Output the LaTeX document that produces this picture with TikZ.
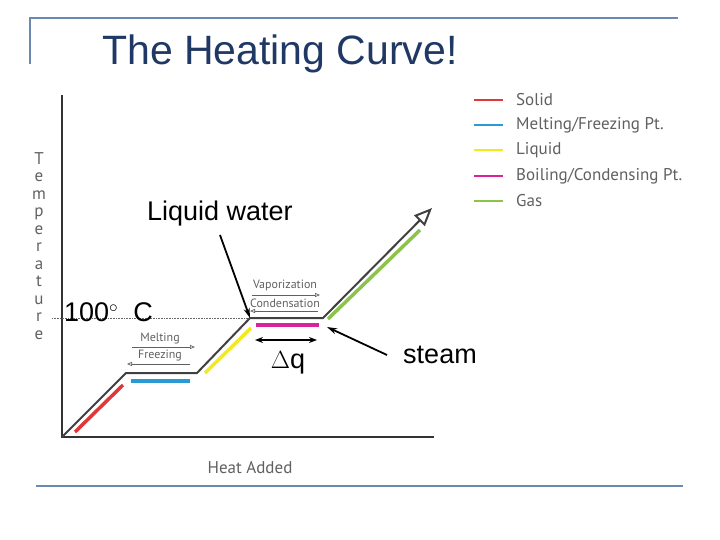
\documentclass[tikz,border=0pt]{standalone}
\usepackage{fontspec}
\setmainfont{Liberation Sans}
\newfontfamily\smallfont{PT Sans}
\usetikzlibrary{arrows.meta}
\definecolor{frame}{HTML}{6A8AB0}
\definecolor{cred}{HTML}{E0383A}
\definecolor{cblue}{HTML}{2A9AD2}
\definecolor{cyel}{HTML}{F2EA1E}
\definecolor{cmag}{HTML}{D8239A}
\definecolor{cgreen}{HTML}{8CC34A}
\definecolor{gtext}{HTML}{606060}
\definecolor{titlec}{HTML}{1F3864}
\tikzset{
 seg/.style={line width=3.5pt},
 curve/.style={line width=2pt, black!75},
 axis/.style={line width=2.5pt, black!80},
 small/.style={font=\smallfont\fontsize{12}{13}\selectfont, text=gtext, inner sep=0pt},
 leg/.style={font=\smallfont\fontsize{17}{19}\selectfont, text=gtext, anchor=west, inner sep=0pt},
 big/.style={font=\fontsize{27}{30}\selectfont, inner sep=0pt},
 thinarr/.style={gtext, line width=0.7pt, -{Triangle[open,length=5pt,width=4pt]}},
 callout/.style={line width=1.8pt, -{Stealth[length=10pt,width=6pt]}}
}
\begin{document}
\begin{tikzpicture}[x=1pt,y=-1pt]
\useasboundingbox (0,0) rectangle (720,540);
% frame
\draw[frame, line width=2pt] (30,64) -- (30,18) -- (678,18);
\draw[frame, line width=2pt] (36,486) -- (683,486);
\node[anchor=west, font=\fontsize{41}{44}\selectfont, text=titlec, inner sep=0pt] (title) at (102,54) {The Heating Curve!};
% axes
\coordinate (o) at (62,437);
\draw[axis] (62,95) -- (o) -- (434,437);
\node[font=\smallfont\fontsize{17}{19}\selectfont, text=gtext] (xl) at (250,468) {Heat Added};
\node[font=\smallfont\fontsize{17}{17.5}\selectfont, text=gtext, align=center, inner sep=0pt] (yl) at (39,246) {T\\e\\m\\p\\e\\r\\a\\t\\u\\r\\e};
% dotted
\draw[densely dotted, black!60, line width=0.6pt] (52,318) -- (250,318);
% curve
\coordinate (p1) at (126,373); \coordinate (p2) at (197,373);
\coordinate (p3) at (250,318); \coordinate (p4) at (323,318);
\coordinate (tip) at (432,208);
\draw[curve, -{Triangle[open,length=18pt,width=15pt]}] (o) -- (p1) -- (p2) -- (p3) -- (p4) -- (tip);
% colored segments
\draw[seg, cred] (75,432) -- (123,385);
\draw[seg, cblue] (131,381) -- (190,381);
\draw[seg, cyel] (205,373) -- (251,328);
\draw[seg, cmag] (256,325) -- (319,325);
\draw[seg, cgreen] (328,319) -- (420,230);
% phase labels
\node[small] (melt) at (160,339) {Melting};
\node[small] (freeze) at (160,356) {Freezing};
\draw[thinarr] (132,347) -- (195,347);
\draw[thinarr] (190,364) -- (127,364);
\node[small] (vap) at (285,285) {Vaporization};
\node[small] (cond) at (285,303) {Condensation};
\draw[thinarr] (252,295) -- (320,295);
\draw[thinarr] (318,311) -- (250,311);
% callouts
\node[big] (lw) at (220,214) {Liquid water};
\draw[callout] (220,235) -- (p3);
\node[big, anchor=west] (t100) at (64,312) {100$^{\circ}$\ \ C};
\node[big] (steam) at (440,355) {steam};
\draw[callout] (387,355) -- (327,327);
\coordinate (da) at (255,340); \coordinate (db) at (317,340);
\draw[line width=2.5pt, {Stealth[length=8pt]}-{Stealth[length=8pt]}] (da) -- (db);
\node[big] (dq) at (288,363) {$\Delta$q};
% legend
\foreach \c/\y/\t in {cred/100/{Solid}, cblue/125/{Melting{/}Freezing Pt.}, cyel/150/{Liquid}, cmag/176/{Boiling{/}Condensing Pt.}, cgreen/201/{Gas}}{
  \draw[\c, line width=2.5pt] (474,\y) -- (503,\y);
  \node[leg] at (516,\y) {\t};
}
\end{tikzpicture}
\end{document}
